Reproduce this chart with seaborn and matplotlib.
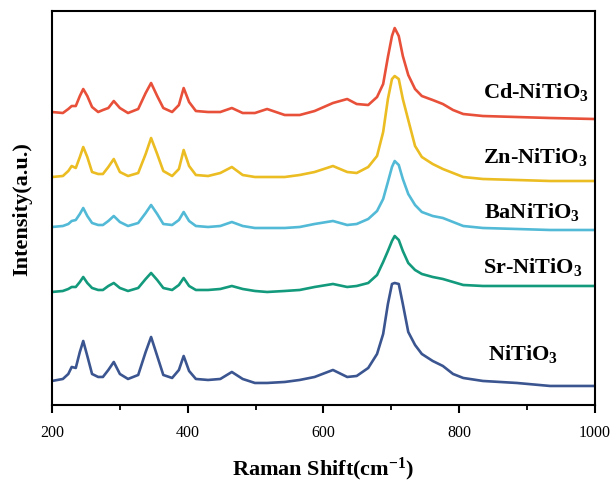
import numpy as np
import pandas as pd
import matplotlib
matplotlib.use("Agg")
import matplotlib.pyplot as plt
import seaborn as sns

# Raman shift grid (cm^-1)
shift = [200, 216, 224, 229, 235, 241, 246, 252, 259, 268, 275, 283, 291, 300, 312, 327,
         338, 346, 355, 364, 377, 387, 394, 402, 412, 430, 448, 465, 481, 499, 517, 543,
         565, 587, 614, 635, 649, 666, 679, 688, 695, 701, 705, 711, 717, 725, 735, 745,
         761, 776, 791, 806, 835, 885, 934, 1000]

# Intensities (a.u., stacked as in the figure)
cd_nitio3 = [293, 292, 296, 299, 299, 309, 316, 309, 298, 293, 295, 297, 304, 297, 292, 296,
             312, 322, 309, 297, 293, 300, 317, 303, 294, 293, 293, 297, 292, 292, 296, 290,
             290, 294, 302, 306, 301, 300, 308, 321, 348, 369, 377, 369, 349, 330, 316, 309,
             305, 301, 295, 291, 289, 288, 287, 286]
zn_nitio3 = [228, 229, 234, 239, 237, 248, 258, 248, 233, 231, 231, 238, 246, 233, 229, 232,
             251, 267, 251, 234, 229, 236, 255, 239, 230, 229, 232, 238, 230, 228, 228, 228,
             230, 233, 239, 233, 232, 238, 249, 273, 306, 326, 329, 326, 306, 285, 259, 248,
             241, 236, 232, 228, 226, 225, 224, 224]
ba_nitio3 = [178, 179, 181, 184, 185, 191, 197, 189, 182, 180, 180, 184, 189, 183, 179, 182,
             192, 200, 191, 181, 180, 185, 193, 184, 179, 178, 179, 183, 179, 177, 177, 177,
             178, 181, 184, 180, 181, 186, 194, 206, 223, 238, 244, 240, 226, 211, 200, 193,
             189, 187, 183, 179, 177, 176, 175, 175]
sr_nitio3 = [113, 114, 116, 118, 118, 123, 128, 122, 117, 115, 115, 119, 122, 117, 114, 117,
             126, 132, 125, 117, 115, 120, 127, 119, 115, 115, 116, 119, 116, 114, 113, 114,
             115, 118, 121, 118, 119, 122, 130, 143, 154, 164, 169, 165, 154, 142, 135, 131,
             128, 126, 123, 120, 119, 119, 119, 119]
nitio3 = [24, 26, 31, 38, 37, 53, 64, 49, 31, 28, 28, 35, 43, 31, 26, 30,
          53, 68, 49, 30, 27, 35, 49, 34, 26, 25, 26, 33, 26, 22, 22, 23,
          25, 28, 35, 28, 29, 37, 51, 71, 101, 121, 122, 121, 101, 73, 60, 51,
          44, 39, 31, 27, 24, 22, 19, 19]

series_names = ["Cd", "Zn", "Ba", "Sr", "Ni"]
series_labels = [r"Cd-NiTiO$\mathbf{_3}$", r"Zn-NiTiO$\mathbf{_3}$", r"BaNiTiO$\mathbf{_3}$",
                 r"Sr-NiTiO$\mathbf{_3}$", r"NiTiO$\mathbf{_3}$"]
label_x = [835, 835, 837, 835, 842]
label_y = [308, 243, 188, 133, 46]
colors = ["#E8503A", "#EBBD22", "#52BAD6", "#139A7C", "#3B5590"]

sns.set_theme(style="ticks")
plt.rcParams["font.family"] = ["Liberation Serif", "DejaVu Serif"]
plt.rcParams["mathtext.fontset"] = "custom"
plt.rcParams["mathtext.rm"] = "Liberation Serif"
plt.rcParams["mathtext.bf"] = "Liberation Serif:bold"
plt.rcParams["mathtext.it"] = "Liberation Serif:italic"
plt.rcParams["text.color"] = "black"
plt.rcParams["axes.labelcolor"] = "black"
plt.rcParams["xtick.color"] = "black"
plt.rcParams["xtick.labelcolor"] = "black"
plt.rcParams["lines.solid_joinstyle"] = "round"

values = [cd_nitio3, zn_nitio3, ba_nitio3, sr_nitio3, nitio3]
df = pd.concat([pd.DataFrame({"shift": shift, "intensity": v, "sample": n})
                for n, v in zip(series_names, values)], ignore_index=True)

fig = plt.figure(figsize=(6.12, 4.81), dpi=100)
ax = fig.add_axes([0.085, 0.156, 0.887, 0.819])
sns.lineplot(data=df, x="shift", y="intensity", hue="sample", hue_order=series_names,
             palette=colors, estimator=None, legend=False, linewidth=1.9, ax=ax)

for lab, lx, ly in zip(series_labels, label_x, label_y):
    ax.text(lx, ly, lab, fontsize=16, fontweight="bold", ha="left", va="baseline",
            color="black")

ax.set_xlim(200, 1000)
ax.set_ylim(0, 394)
ax.set_xticks([200, 400, 600, 800, 1000])
ax.set_xticks([300, 500, 700, 900], minor=True)
ax.set_yticks([])
ax.tick_params(axis="x", which="major", direction="out", length=6, width=1.5,
               labelsize=11.5, pad=8, colors="black")
ax.tick_params(axis="x", which="minor", direction="out", length=3.5, width=1.3,
               colors="black")
ax.tick_params(top=False, right=False)
for s in ax.spines.values():
    s.set_linewidth(1.5)
    s.set_color("black")

ax.set_xlabel(r"Raman Shift(cm$\mathbf{^{-1}}$)", fontsize=16, fontweight="bold",
              labelpad=10, color="black")
ax.set_ylabel("Intensity(a.u.)", fontsize=16, fontweight="bold", labelpad=14,
              color="black")

fig.savefig("out.png", dpi=100)
